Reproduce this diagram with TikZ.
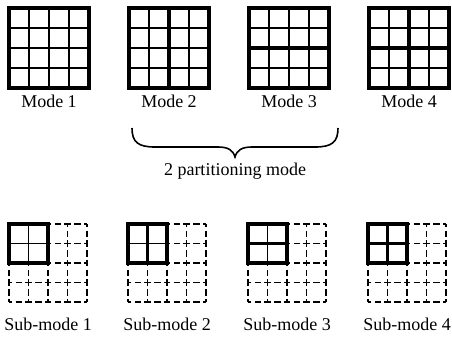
\documentclass[tikz,border=0pt]{standalone}
\usepackage{fontspec}
\setmainfont{Liberation Serif}
\begin{document}
\begin{tikzpicture}[x=1pt,y=-1pt,
  lbl/.style={font=\fontsize{18}{20}\selectfont, inner sep=0pt},
  frame/.style={line width=4.5pt},
  thinline/.style={line width=1.8pt},
  midline/.style={line width=3.8pt},
  dashline/.style={line width=1.8pt, dash pattern=on 6.5pt off 3.25pt, dash phase=3.25pt},
  boldbox/.style={line width=4.5pt}]
\useasboundingbox (0,0) rectangle (452,338);
% ---------- top grids ----------
\foreach \xo/\k in {9/1,129/2,249/3,369/4}{
  \foreach \i in {1,2,3}{
    \draw[thinline] (\xo+20*\i,8) -- (\xo+20*\i,88);
    \draw[thinline] (\xo,8+20*\i) -- (\xo+80,8+20*\i);
  }
  \ifnum\k=2 \draw[midline] (\xo+40,8) -- (\xo+40,88); \fi
  \ifnum\k=3 \draw[midline] (\xo,48) -- (\xo+80,48); \fi
  \ifnum\k=4 \draw[midline] (\xo+40,8) -- (\xo+40,88); \draw[midline] (\xo,48) -- (\xo+80,48); \fi
  \draw[frame] (\xo,8) rectangle (\xo+80,88);
  \node[lbl] (mode\k) at (\xo+40,101) {Mode \k};
}
% ---------- brace ----------
\coordinate (bl) at (132,128);
\coordinate (br) at (338,128);
\coordinate (btip) at (235,157);
\draw[line width=1.6pt] (bl) .. controls (132,142) and (138,147) .. (155,147)
  -- (218,147) .. controls (228,147) and (233,150) .. (btip)
  .. controls (237,150) and (242,147) .. (252,147)
  -- (315,147) .. controls (332,147) and (338,142) .. (br);
\node[lbl] (part) at (235,171) {2 partitioning mode};
% ---------- bottom grids ----------
\foreach \xo/\k in {9/1,128/2,248/3,368/4}{
  \foreach \i in {0,1,2,3,4}{
    \draw[dashline] (\xo+19.5*\i,224) -- (\xo+19.5*\i,302);
    \draw[dashline] (\xo,224+19.5*\i) -- (\xo+78,224+19.5*\i);
  }
  \draw[thinline,line width=1.5pt] (\xo+19.5,224) -- (\xo+19.5,263);
  \draw[thinline,line width=1.5pt] (\xo,243.5) -- (\xo+39,243.5);
  \ifnum\k=2 \draw[midline] (\xo+19.5,224) -- (\xo+19.5,263); \fi
  \ifnum\k=3 \draw[midline] (\xo,243.5) -- (\xo+39,243.5); \fi
  \ifnum\k=4 \draw[midline] (\xo+19.5,224) -- (\xo+19.5,263); \draw[midline] (\xo,243.5) -- (\xo+39,243.5); \fi
  \draw[boldbox] (\xo,224) rectangle (\xo+39,263);
  \node[lbl] (sub\k) at (\xo+39,324) {Sub-mode \k};
}
\end{tikzpicture}
\end{document}
